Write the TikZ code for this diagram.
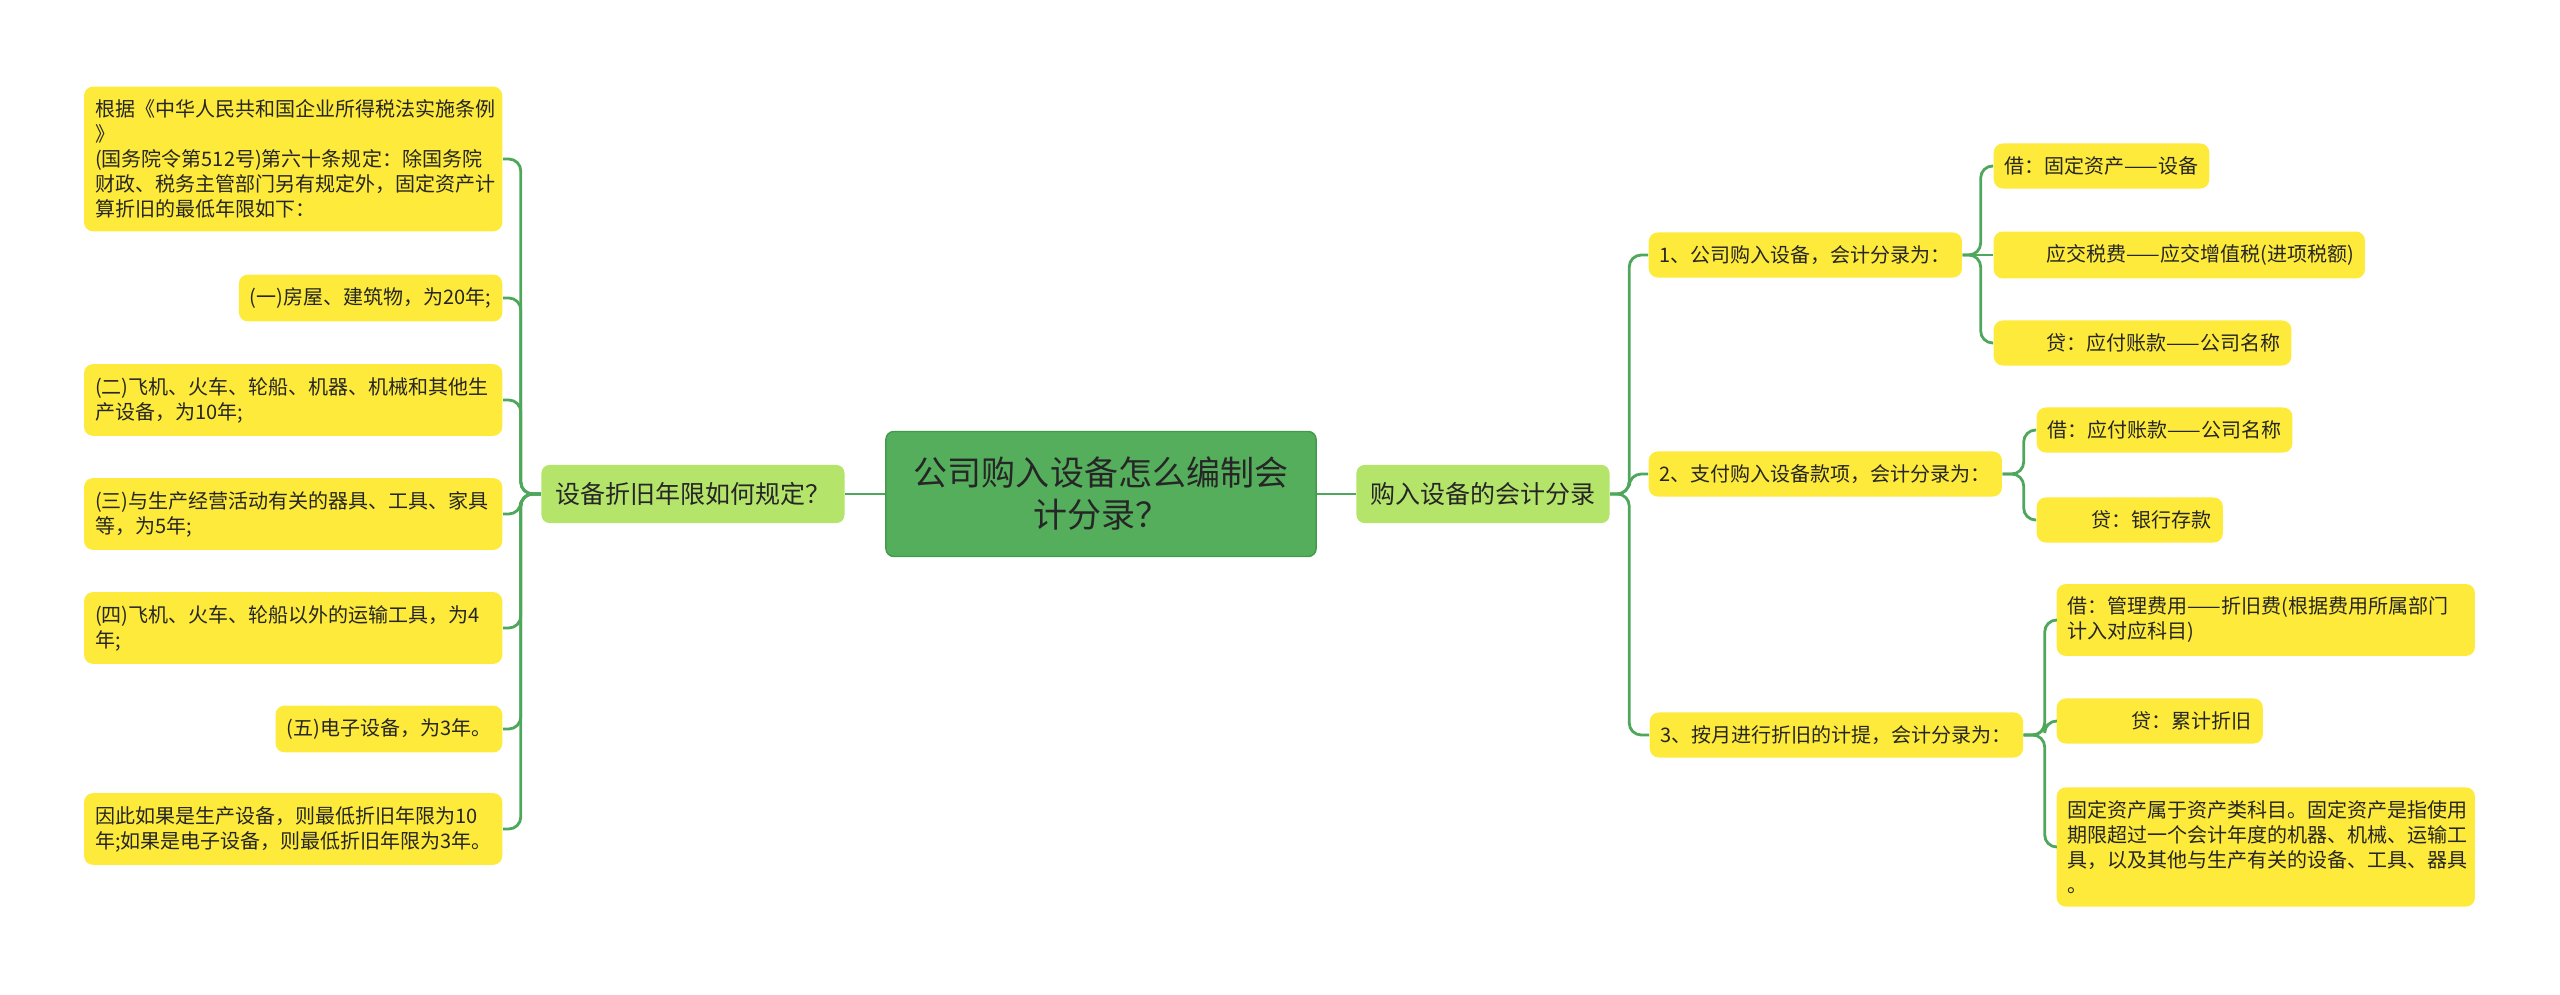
\documentclass[tikz,border=0pt]{standalone}
\usepackage{fontspec}
\setmainfont{Noto Sans CJK SC}
\definecolor{rootgreen}{HTML}{55AE5C}
\definecolor{rootedge}{HTML}{449A4C}
\definecolor{subgreen}{HTML}{B5E46A}
\definecolor{leafyellow}{HTML}{FDEA3A}
\definecolor{linkgreen}{HTML}{4FA75C}
\definecolor{textgray}{HTML}{262626}
\begin{document}
\begin{tikzpicture}[x=0.01cm, y=-0.01cm,
  link/.style={draw=linkgreen, line width=0.8pt, rounded corners=0.12cm},
  rootbox/.style={fill=rootgreen, draw=rootedge, line width=0.4pt, rounded corners=0.08cm, minimum width=4.3cm, minimum height=1.25cm, align=center, text=textgray, font=\fontsize{9.67pt}{11.95pt}\selectfont},
  subbox/.style={fill=subgreen, rounded corners=0.08cm, minimum height=0.58cm, inner xsep=0.14cm, text=textgray, font=\fontsize{7.11pt}{8.9pt}\selectfont},
  leaf/.style={fill=leafyellow, rounded corners=0.09cm, inner xsep=0.11cm, inner ysep=0.13cm, minimum height=0.45cm, align=left, text=textgray, font=\fontsize{5.69pt}{7.11pt}\selectfont},
  wideleaf/.style={leaf, text width=3.96cm}]
\useasboundingbox (0,0) rectangle (2560,995);
\node[rootbox] (root) at (1101,494) {公司购入设备怎么编制会\\计分录？};
\node[subbox] (lsub) at (693,494) {设备折旧年限如何规定？};
\node[subbox] (rsub) at (1483,494) {购入设备的会计分录};
\node[wideleaf, anchor=east] (l1) at (503,159) {根据《中华人民共和国企业所得税法实施条例\\》\\(国务院令第512号)第六十条规定：除国务院\\财政、税务主管部门另有规定外，固定资产计\\算折旧的最低年限如下：};
\node[leaf, anchor=east] (l2) at (503,298) {(一)房屋、建筑物，为20年;};
\node[wideleaf, anchor=east] (l3) at (503,400) {(二)飞机、火车、轮船、机器、机械和其他生\\产设备，为10年;};
\node[wideleaf, anchor=east] (l4) at (503,514) {(三)与生产经营活动有关的器具、工具、家具\\等，为5年;};
\node[wideleaf, anchor=east] (l5) at (503,628) {(四)飞机、火车、轮船以外的运输工具，为4\\年;};
\node[leaf, anchor=east] (l6) at (503,729) {(五)电子设备，为3年。};
\node[wideleaf, anchor=east] (l7) at (503,829) {因此如果是生产设备，则最低折旧年限为10\\年;如果是电子设备，则最低折旧年限为3年。};
\node[leaf, anchor=west] (r1) at (1648,255) {1、公司购入设备，会计分录为：};
\node[leaf, anchor=west] (r11) at (1993,166) {借：固定资产——设备};
\node[leaf, anchor=west] (r12) at (1993,255) {\hspace*{0.42cm}应交税费——应交增值税(进项税额)};
\node[leaf, anchor=west] (r13) at (1993,343) {\hspace*{0.42cm}贷：应付账款——公司名称};
\node[leaf, anchor=west] (r2) at (1648,474) {2、支付购入设备款项，会计分录为：};
\node[leaf, anchor=west] (r21) at (2036,430) {借：应付账款——公司名称};
\node[leaf, anchor=west] (r22) at (2036,520) {\hspace*{0.44cm}贷：银行存款};
\node[leaf, anchor=west] (r3) at (1649,735) {3、按月进行折旧的计提，会计分录为：};
\node[wideleaf, anchor=west] (r31) at (2056,620) {借：管理费用——折旧费(根据费用所属部门\\计入对应科目)};
\node[leaf, anchor=west] (r32) at (2056,721) {\hspace*{0.64cm}贷：累计折旧};
\node[wideleaf, anchor=west] (r33) at (2056,847) {固定资产属于资产类科目。固定资产是指使用\\期限超过一个会计年度的机器、机械、运输工\\具，以及其他与生产有关的设备、工具、器具\\。};
\draw[link] (root.west) -- (lsub.east);
\draw[link] (root.east) -- (rsub.west);
\foreach \leafname in {l1,l2,l3,l4,l5,l6,l7}
  \draw[link] (lsub.west) -- ++(-20,0) |- (\leafname.east);
\foreach \leafname in {r1,r2,r3}
  \draw[link] (rsub.east) -- ++(19,0) |- (\leafname.west);
\draw[link] (r1.east) -- ++(18,0) |- (r11.west);
\draw[link] (r1.east) -- (r12.west);
\draw[link] (r1.east) -- ++(18,0) |- (r13.west);
\foreach \leafname in {r21,r22}
  \draw[link] (r2.east) -- ++(21,0) |- (\leafname.west);
\foreach \leafname in {r31,r32,r33}
  \draw[link] (r3.east) -- ++(21,0) |- (\leafname.west);
\end{tikzpicture}
\end{document}
